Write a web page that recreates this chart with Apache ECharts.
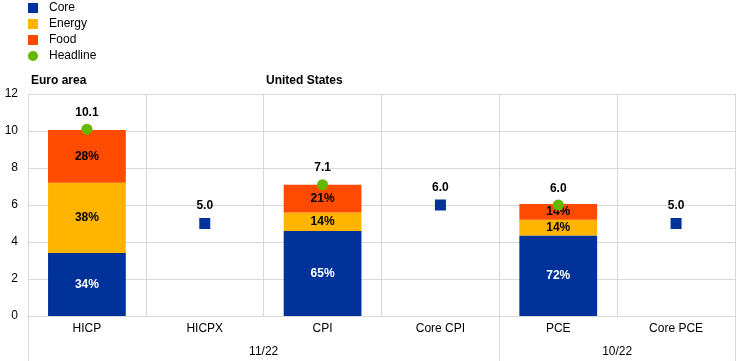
<!DOCTYPE html>
<html>
<head>
<meta charset="utf-8">
<script src="https://cdn.jsdelivr.net/npm/echarts@6/dist/echarts.min.js"></script>
<style>html,body{margin:0;padding:0;background:#fff}#c{width:744px;height:361px}</style>
</head>
<body>
<div id="c"></div>
<script>
const categories = ['HICP', 'HICPX', 'CPI', 'Core CPI', 'PCE', 'Core PCE'];
const coreValues = [3.4, null, 4.6, null, 4.35, null];
const energyValues = [3.8, null, 1.0, null, 0.85, null];
const foodValues = [2.85, null, 1.5, null, 0.85, null];
const coreShare = [34, null, 65, null, 72, null];
const energyShare = [38, null, 14, null, 14, null];
const foodShare = [28, null, 21, null, 14, null];
const headlineValues = [10.1, null, 7.1, null, 6.0, null];
const coreMeasureValues = [null, 5.0, null, 6.0, null, 5.0];
const periodLabels = {2: '11/22', 5: '10/22'};
const periodTicks = [0, 4, 6];
const yTicks = {min: 0, max: 12, interval: 2};

const FONT = 'Liberation Sans, Arial, sans-serif';
const C_CORE = '#003299', C_ENERGY = '#ffb400', C_FOOD = '#ff4b00', C_HEAD = '#65b800';
const GRID = '#d9d9d9';

function shareLabel(arr, color) {
  return {
    show: true, position: 'inside', color: color, fontWeight: 'bold', fontSize: 12, fontFamily: FONT,
    formatter: p => arr[p.dataIndex] == null ? '' : arr[p.dataIndex] + '%'
  };
}

const chart = echarts.init(document.getElementById('c'), null, {renderer: 'canvas'});
chart.setOption({
  animation: false,
  textStyle: {fontFamily: FONT},
  title: [
    {text: 'Euro area', left: 26, top: 70, textStyle: {fontSize: 12, fontWeight: 'bold', color: '#000', fontFamily: FONT}},
    {text: 'United States', left: 261, top: 70, textStyle: {fontSize: 12, fontWeight: 'bold', color: '#000', fontFamily: FONT}}
  ],
  legend: {
    orient: 'vertical', left: 23, top: -3, itemWidth: 10, itemHeight: 10, itemGap: 4,
    textStyle: {fontSize: 12, color: '#000', fontFamily: FONT, padding: [0, 0, 0, 6]},
    data: [
      {name: 'Core', icon: 'rect'},
      {name: 'Energy', icon: 'rect'},
      {name: 'Food', icon: 'rect'},
      {name: 'Headline', icon: 'circle'}
    ]
  },
  grid: {left: 28, right: 9, top: 94, bottom: 45, containLabel: false},
  xAxis: [
    {
      type: 'category', data: categories, boundaryGap: true,
      axisLine: {show: true, lineStyle: {color: GRID}},
      axisTick: {show: false},
      splitLine: {show: true, lineStyle: {color: GRID}},
      axisLabel: {color: '#000', fontSize: 12, margin: 7, fontFamily: FONT}
    },
    {
      type: 'value', min: 0, max: 6, position: 'bottom',
      axisLine: {show: false},
      splitLine: {show: false},
      axisTick: {show: true, customValues: periodTicks, length: 45, lineStyle: {color: GRID}},
      axisLabel: {show: true, customValues: [2, 5], margin: 30, color: '#000', fontSize: 12, fontFamily: FONT,
        formatter: v => periodLabels[v] || ''}
    }
  ],
  yAxis: {
    type: 'value', min: yTicks.min, max: yTicks.max, interval: yTicks.interval,
    axisLine: {show: false}, axisTick: {show: false},
    splitLine: {show: true, lineStyle: {color: GRID}},
    axisLabel: {color: '#000', fontSize: 12, margin: 10, fontFamily: FONT}
  },
  series: [
    {name: 'Core', type: 'bar', stack: 'a', barWidth: '66%', data: coreValues,
      itemStyle: {color: C_CORE}, label: shareLabel(coreShare, '#fff')},
    {name: 'Energy', type: 'bar', stack: 'a', barWidth: '66%', data: energyValues,
      itemStyle: {color: C_ENERGY}, label: shareLabel(energyShare, '#000')},
    {name: 'Food', type: 'bar', stack: 'a', barWidth: '66%', data: foodValues,
      itemStyle: {color: C_FOOD}, label: shareLabel(foodShare, '#000')},
    {name: 'Headline', type: 'scatter', data: headlineValues, symbol: 'circle', symbolSize: 11, z: 5,
      itemStyle: {color: C_HEAD, opacity: 1},
      label: {show: true, position: 'top', distance: 5, color: '#000', fontWeight: 'bold', fontSize: 12, fontFamily: FONT,
        formatter: p => p.value == null ? '' : Number(p.value).toFixed(1)}},
    {name: 'Core measure', type: 'scatter', data: coreMeasureValues, symbol: 'rect', symbolSize: 11, z: 5,
      itemStyle: {color: C_CORE, opacity: 1},
      label: {show: true, position: 'top', distance: 6, color: '#000', fontWeight: 'bold', fontSize: 12, fontFamily: FONT,
        formatter: p => p.value == null ? '' : Number(p.value).toFixed(1)}}
  ]
});
</script>
</body>
</html>
